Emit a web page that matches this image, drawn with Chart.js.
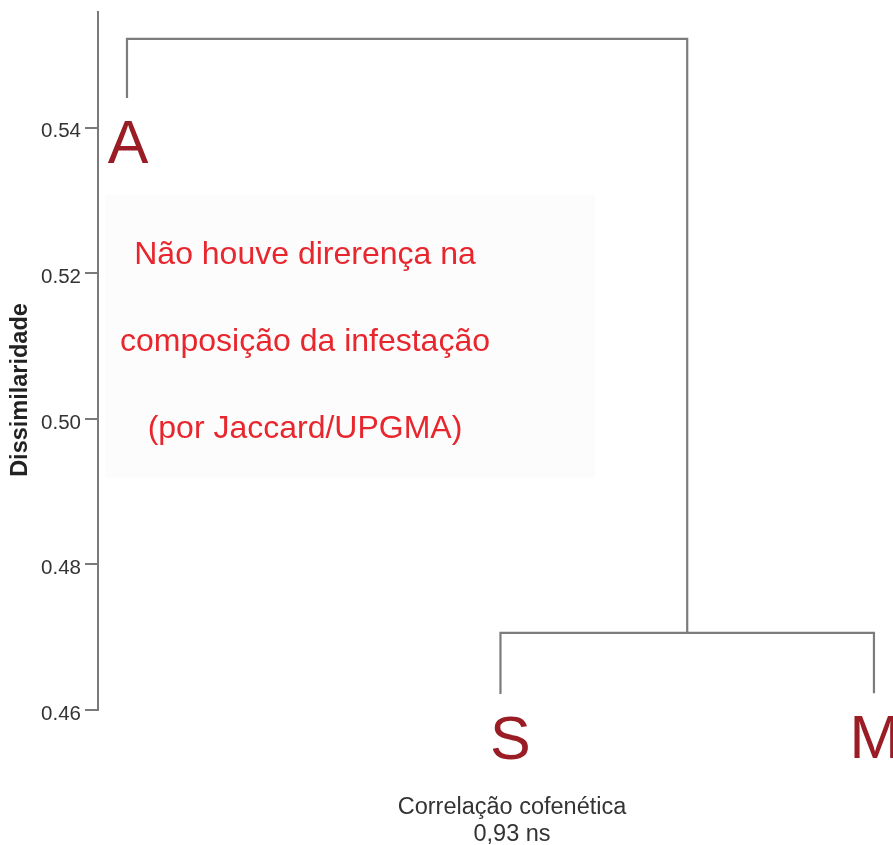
<!DOCTYPE html>
<html>
<head>
<meta charset="utf-8">
<script src="https://cdn.jsdelivr.net/npm/chart.js@4/dist/chart.umd.min.js"></script>
<style>
  html, body { margin: 0; padding: 0; background: #fff; }
  canvas { display: block; }
</style>
</head>
<body>
<canvas id="dendro" width="893" height="845"></canvas>
<script>
// Leaves of the dendrogram (UPGMA on Jaccard dissimilarity)
const leafLabels = ['A', 'S', 'M'];
const leafX = [1, 2, 3];
const leafHeights = [0.5441, 0.4622, 0.4623];
// Fusion levels: S + M first, then A joins the (S, M) cluster
const mergeSM = 0.4706;
const mergeTop = 0.5522;
const yTicks = [0.46, 0.48, 0.50, 0.52, 0.54];
const yTitle = 'Dissimilaridade';
const noteLines = ['Não houve direrença na', 'composição da infestação', '(por Jaccard/UPGMA)'];
const footLines = ['Correlação cofenética', '0,93 ns'];

const FONT = '"Liberation Sans", Arial, Helvetica, sans-serif';
const LINK_COLOR = '#7c7c7c';

// Each link is a U-shaped polyline: leaf/child up to the fusion level, across, and down.
function link(x1, h1, x2, h2, level) {
  return [
    { x: x1, y: h1 }, { x: x1, y: level },
    { x: x2, y: level }, { x: x2, y: h2 }
  ];
}
const smCenter = (leafX[1] + leafX[2]) / 2;
const links = [
  link(leafX[1], leafHeights[1], leafX[2], leafHeights[2], mergeSM),
  link(leafX[0], leafHeights[0], smCenter, mergeSM, mergeTop)
];

const datasets = links.map(pts => ({
  data: pts,
  showLine: true,
  borderColor: LINK_COLOR,
  borderWidth: 2.2,
  pointRadius: 0,
  pointHoverRadius: 0,
  fill: false,
  tension: 0
}));

const overlay = {
  id: 'overlay',
  beforeDatasetsDraw(chart) {
    const { ctx } = chart;
    ctx.save();
    // faint panel behind the note
    ctx.fillStyle = 'rgba(0,0,0,0.01)';
    ctx.fillRect(105, 195, 490, 283);
    ctx.restore();
  },
  afterDatasetsDraw(chart) {
    const { ctx } = chart;
    const xs = chart.scales.x, ys = chart.scales.y;
    ctx.save();
    ctx.textAlign = 'center';
    ctx.textBaseline = 'alphabetic';

    // note
    ctx.fillStyle = '#e8262d';
    ctx.font = '32px ' + FONT;
    const noteY = [264, 351, 438];
    noteLines.forEach((t, i) => ctx.fillText(t, 305, noteY[i]));

    // leaf labels
    ctx.fillStyle = '#9a1c24';
    ctx.font = '61px ' + FONT;
    leafLabels.forEach((lab, i) => {
      const px = xs.getPixelForValue(leafX[i]);
      const py = ys.getPixelForValue(leafHeights[i]);
      ctx.fillText(lab, px + (i === 1 ? 10 : 1), py + 65);
    });

    // footer
    ctx.fillStyle = '#333';
    ctx.font = '23.5px ' + FONT;
    ctx.fillText(footLines[0], 512, 814);
    ctx.fillText(footLines[1], 512, 841);

    // axis title
    ctx.translate(21, 390);
    ctx.rotate(-Math.PI / 2);
    ctx.textBaseline = 'middle';
    ctx.fillStyle = '#222';
    ctx.font = 'bold 23.5px ' + FONT;
    ctx.fillText(yTitle, 0, 0);
    ctx.restore();
  }
};

new Chart(document.getElementById('dendro'), {
  type: 'scatter',
  data: { datasets },
  options: {
    responsive: false,
    animation: false,
    layout: { padding: { top: 12, bottom: 135, left: 0, right: 0 } },
    plugins: { legend: { display: false }, tooltip: { enabled: false } },
    scales: {
      x: { type: 'linear', display: false, min: 0.9224, max: 3.051 },
      y: {
        type: 'linear',
        min: 0.46,
        max: 0.5559,
        afterBuildTicks(scale) { scale.ticks = yTicks.map(v => ({ value: v })); },
        afterFit(scale) { scale.width = 98; scale.paddingTop = 0; scale.paddingBottom = 0; },
        ticks: {
          color: '#333',
          font: { family: FONT, size: 20.5 },
          padding: 4,
          labelOffset: 4,
          callback: v => Number(v).toFixed(2)
        },
        grid: {
          drawOnChartArea: false,
          drawTicks: true,
          tickLength: 13,
          color: '#7a7a7a',
          lineWidth: 2
        },
        border: { display: true, color: '#7a7a7a', width: 2 },
        title: { display: false }
      }
    }
  },
  plugins: [overlay]
});
</script>
</body>
</html>
